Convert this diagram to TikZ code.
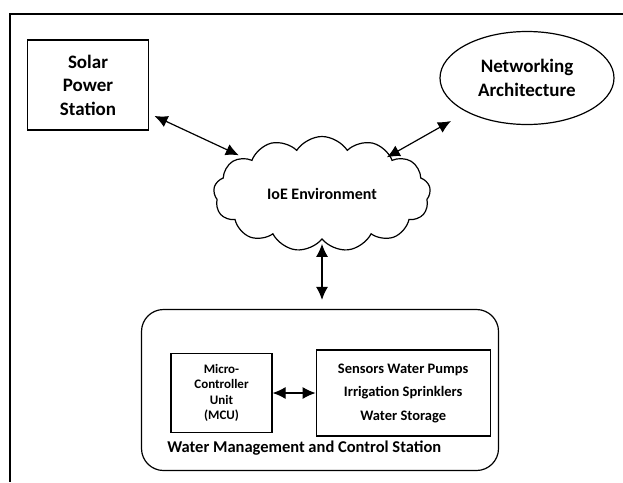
\documentclass[tikz,border=0pt]{standalone}
\usepackage{fontspec}
\setmainfont{Carlito}
\usetikzlibrary{arrows.meta, positioning, shapes.geometric, shapes.symbols}

\begin{document}
\begin{tikzpicture}[
        x=1pt, y=-1pt,
        every node/.style={align=center, line width=1.2pt},
        bigtext/.style={font=\fontsize{19}{23.5}\selectfont\bfseries},
        smalltext/.style={font=\fontsize{13}{15.5}\selectfont\bfseries},
        box/.style={draw, rectangle},
        link/.style={draw, line width=1.2pt, {Latex[length=13pt, width=12pt]}-{Latex[length=13pt, width=12pt]}},
    ]
    \useasboundingbox (0,0) rectangle (623,482);
    \draw[line width=1.2pt] (623,14) -- (10,14) -- (10,482);

    \node[box, bigtext, minimum width=121pt, minimum height=90pt] (solar) at (88,85) {Solar\\Power\\Station};
    \node[draw, ellipse, bigtext, minimum width=174pt, minimum height=93pt] (net) at (527,78) {Networking\\Architecture};
    \node[draw, cloud, cloud puffs=13, cloud puff arc=115, aspect=1.9,
          minimum width=217pt, minimum height=115pt,
          font=\fontsize{16}{19}\selectfont\bfseries] (ioe) at (322,194) {IoE Environment};

    \node[draw, rounded corners=22pt, minimum width=357pt, minimum height=161pt] (station) at (320,390) {};
    \node[box, smalltext, minimum width=101pt, minimum height=79pt] (mcu) at (221.5,393) {Micro-\\Controller\\Unit\\(MCU)};
    \node[box, font=\fontsize{14.5}{23.5}\selectfont\bfseries, minimum width=174pt, minimum height=86pt,
          right=43pt of mcu] (devices) {Sensors Water Pumps\\Irrigation Sprinklers\\Water Storage};
    \node[anchor=west, font=\fontsize{16.5}{19}\selectfont\bfseries] (label)
          at ([xshift=-7pt, yshift=-15pt]mcu.south west) {Water Management and Control Station};

    \draw[link, shorten <=6pt, shorten >=6pt] (solar) -- (ioe);
    \draw[link, shorten <=18pt, shorten >=-4pt] (net) -- (ioe);
    \draw[link, shorten <=4pt, shorten >=9pt] (ioe.south) -- (ioe.south |- station.north);
    \draw[link] (mcu.east) -- (mcu.east -| devices.west);
\end{tikzpicture}
\end{document}
